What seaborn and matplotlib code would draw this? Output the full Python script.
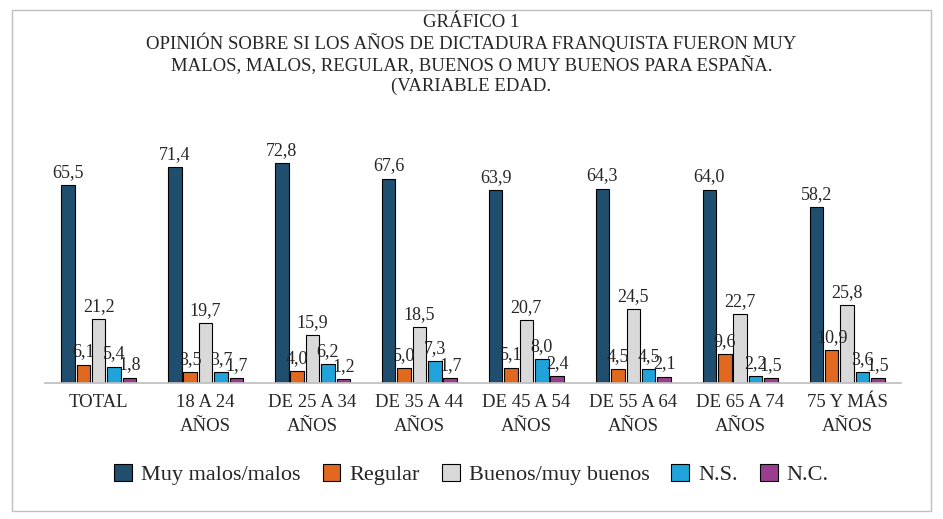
import matplotlib
matplotlib.use("Agg")
import matplotlib.pyplot as plt
import seaborn as sns
import pandas as pd
from matplotlib.patches import Rectangle

categories = ["TOTAL", "18 A 24\nAÑOS", "DE 25 A 34\nAÑOS", "DE 35 A 44\nAÑOS",
              "DE 45 A 54\nAÑOS", "DE 55 A 64\nAÑOS", "DE 65 A 74\nAÑOS", "75 Y MÁS\nAÑOS"]
series = ["Muy malos/malos", "Regular", "Buenos/muy buenos", "N.S.", "N.C."]
muy_malos = [65.5, 71.4, 72.8, 67.6, 63.9, 64.3, 64.0, 58.2]
regular = [6.1, 3.5, 4.0, 5.0, 5.1, 4.5, 9.6, 10.9]
buenos = [21.2, 19.7, 15.9, 18.5, 20.7, 24.5, 22.7, 25.8]
ns = [5.4, 3.7, 6.2, 7.3, 8.0, 4.5, 2.2, 3.6]
nc = [1.8, 1.7, 1.2, 1.7, 2.4, 2.1, 1.5, 1.5]
colors = ["#1F4E6E", "#E0691F", "#D9D9D9", "#1FA3DA", "#9B3D8F"]

rows = []
for s, vals in zip(series, [muy_malos, regular, buenos, ns, nc]):
    for c, v in zip(categories, vals):
        rows.append({"cat": c, "serie": s, "val": v})
df = pd.DataFrame(rows)

sns.set_theme(style="white")
plt.rcParams["font.family"] = ["Liberation Serif", "DejaVu Serif"]

fig = plt.figure(figsize=(9.43, 5.19), dpi=100)
ax = fig.add_axes([0.048, 0.262, 0.907, 0.466])
sns.barplot(data=df, x="cat", y="val", hue="serie", palette=colors, width=0.72,
            gap=0.12, edgecolor="black", linewidth=0.8, ax=ax, legend=True, saturation=1)
for cont in ax.containers:
    labels = [f"{v:.1f}".replace(".", ",") for v in cont.datavalues]
    ax.bar_label(cont, labels=labels, padding=3, fontsize=13)
ax.set_ylim(0, 80)
ax.set_xlim(-0.5, 7.5)
ax.set_xlabel(""); ax.set_ylabel("")
ax.set_yticks([])
for sp in ["top", "left", "right"]:
    ax.spines[sp].set_visible(False)
ax.spines["bottom"].set_color("#BFBFBF")
ax.tick_params(axis="x", labelsize=13.5, length=0, pad=8)
for t in ax.get_xticklabels():
    t.set_linespacing(1.5)

h, l = ax.get_legend_handles_labels()
ax.legend_.remove()
fig.legend(h, l, loc="center", bbox_to_anchor=(0.5, 0.085), ncol=5, frameon=False,
           fontsize=16, handlelength=0.8, handleheight=0.8, columnspacing=1.0, handletextpad=0.4)

fig.text(0.5, 0.895, "GRÁFICO 1\nOPINIÓN SOBRE SI LOS AÑOS DE DICTADURA FRANQUISTA FUERON MUY\n"
         "MALOS, MALOS, REGULAR, BUENOS O MUY BUENOS PARA ESPAÑA.\n(VARIABLE EDAD.",
         ha="center", va="center", fontsize=13.5, linespacing=1.2)
fig.patches.append(Rectangle((0.013, 0.015), 0.974, 0.965, transform=fig.transFigure,
                             fill=False, edgecolor="#BFBFBF", linewidth=1))
fig.savefig("out.png", dpi=100)
